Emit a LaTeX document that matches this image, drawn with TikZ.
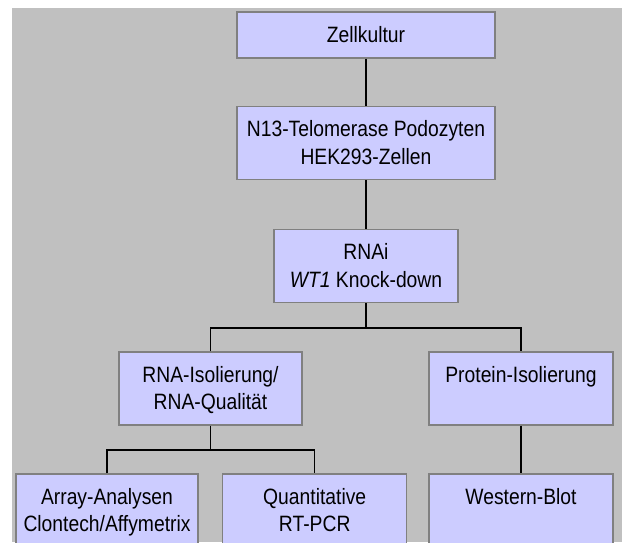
\documentclass[tikz,border=0pt]{standalone}
\usepackage{fontspec}
\setmainfont{Liberation Sans}
\usepackage{graphicx}
\definecolor{bgray}{HTML}{C0C0C0}
\definecolor{boxfill}{HTML}{CCCCFF}
\definecolor{boxline}{HTML}{808080}
\newcommand\txl[1]{\mbox{\rule{0pt}{18pt}\scalebox{1}[1.15]{#1}}}
\newcommand\boxtxt[3]{\parbox[c][#2pt][t]{#1pt}{\centering\vspace*{12pt}#3\par}}
\begin{document}
\begin{tikzpicture}[x=1pt,y=-1pt,
  box/.style={draw=boxline, fill=boxfill, line width=1.3pt, inner sep=0pt,
    font=\fontsize{19.3pt}{27.7pt}\selectfont},
  conn/.style={draw=black, line width=1.4pt}]
\useasboundingbox (0,0) rectangle (622,542);
\clip (0,0) rectangle (622,542);
\fill[bgray] (12,8) rectangle (622,542);
\node[box] (Z) at (366,35) {\boxtxt{258}{46}{\txl{Zellkultur}}};
\node[box] (N) at (366,143.3) {\boxtxt{258}{73}{\txl{N13-Telomerase Podozyten}\\\txl{HEK293-Zellen}}};
\node[box] (R) at (366,266) {\boxtxt{184}{73}{\txl{RNAi}\\\txl{\textit{WT1} Knock-down}}};
\node[box] (RNA) at (210.5,388.5) {\boxtxt{183}{73}{\txl{RNA-Isolierung/}\\\txl{RNA-Qualität}}};
\node[box] (P) at (521,388.5) {\boxtxt{184}{73}{\txl{Protein-Isolierung}}};
\node[box] (A) at (107,510.5) {\boxtxt{182}{73}{\txl{Array-Analysen}\\\txl{Clontech/Affymetrix}}};
\node[box] (Q) at (314.7,510.5) {\boxtxt{184}{73}{\txl{Quantitative}\\\txl{RT-PCR}}};
\node[box] (W) at (521,510.5) {\boxtxt{184}{73}{\txl{Western-Blot}}};
\draw[conn] (Z.south) -- (N.north);
\draw[conn] (N.south) -- (R.north);
\draw[conn] (R.south) -- ++(0,25) coordinate (rj);
\draw[conn] (RNA.north) |- (rj) -| (P.north);
\draw[conn] (RNA.south) -- ++(0,24.3) coordinate (aj);
\draw[conn] (A.north) |- (aj) -| (Q.north);
\draw[conn] (P.south) -- (W.north);
\end{tikzpicture}
\end{document}
